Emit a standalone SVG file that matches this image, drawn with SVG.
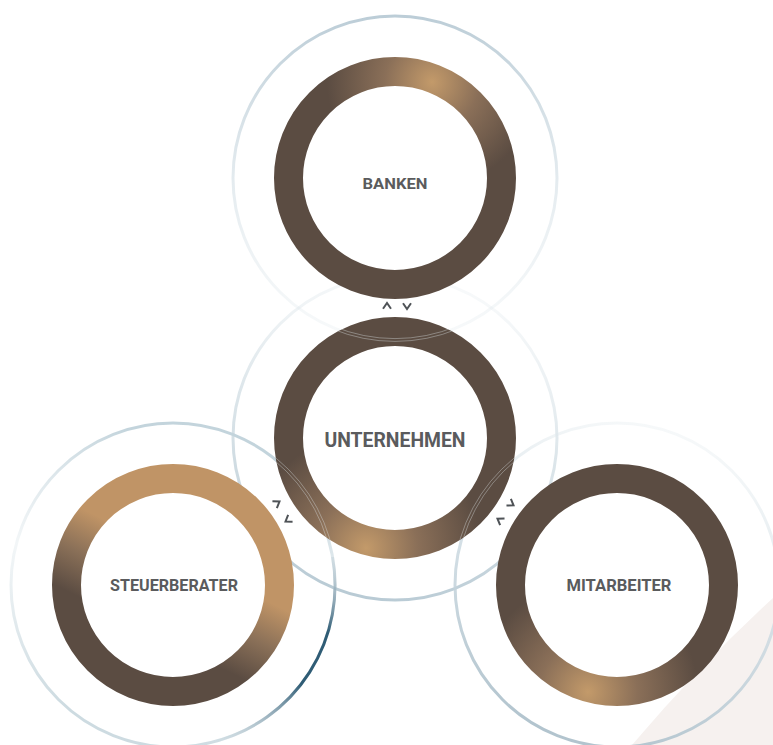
<svg xmlns="http://www.w3.org/2000/svg" width="773" height="745" viewBox="0 0 773 745">
  <style>
    .ring{fill:none;stroke-width:29}
    .halo{fill:none;stroke-width:3}
    .hair{fill:none;stroke:#dfe7eb;stroke-width:0.7;stroke-opacity:0.55}
    .lbl{font-family:Roboto,"Open Sans","Liberation Sans",sans-serif;font-weight:700;fill:#5a5b5d;text-anchor:middle}
    .chev{fill:none;stroke:#4f5357;stroke-width:2;stroke-linecap:butt;stroke-linejoin:miter}
  </style>
  <defs>
    <radialGradient id="gBank" gradientUnits="userSpaceOnUse" cx="432" cy="82" r="105">
      <stop offset="0" stop-color="#c39a6a"/>
      <stop offset="0.45" stop-color="#8a6f58"/>
      <stop offset="1" stop-color="#5b4c42"/>
    </radialGradient>
    <radialGradient id="gUnt" gradientUnits="userSpaceOnUse" cx="366" cy="548" r="115">
      <stop offset="0" stop-color="#c39a6a"/>
      <stop offset="0.45" stop-color="#8a6f58"/>
      <stop offset="1" stop-color="#5b4c42"/>
    </radialGradient>
    <radialGradient id="gMit" gradientUnits="userSpaceOnUse" cx="588" cy="692" r="110">
      <stop offset="0" stop-color="#c39a6a"/>
      <stop offset="0.45" stop-color="#8a6f58"/>
      <stop offset="1" stop-color="#5b4c42"/>
    </radialGradient>
    <linearGradient id="gSt" gradientUnits="userSpaceOnUse" x1="200" y1="530" x2="140" y2="650">
      <stop offset="0.25" stop-color="#c09466"/>
      <stop offset="0.55" stop-color="#8a7058"/>
      <stop offset="0.85" stop-color="#5b4c42"/>
    </linearGradient>
    <linearGradient id="hBank" gradientUnits="userSpaceOnUse" x1="0" y1="16" x2="0" y2="340">
      <stop offset="0" stop-color="#bccdd7"/>
      <stop offset="0.55" stop-color="#d6e1e7" stop-opacity="0.6"/>
      <stop offset="1" stop-color="#e1e9ed" stop-opacity="0.25"/>
    </linearGradient>
    <linearGradient id="hUnt" gradientUnits="userSpaceOnUse" x1="430" y1="276" x2="360" y2="600">
      <stop offset="0" stop-color="#e3eaee" stop-opacity="0.25"/>
      <stop offset="0.45" stop-color="#d2dee4" stop-opacity="0.75"/>
      <stop offset="1" stop-color="#b8cad4"/>
    </linearGradient>
    <linearGradient id="hSt" gradientUnits="userSpaceOnUse" x1="120" y1="425" x2="40" y2="700">
      <stop offset="0" stop-color="#c3d4dc"/>
      <stop offset="0.5" stop-color="#e6edf0" stop-opacity="0.5"/>
      <stop offset="1" stop-color="#cddbe1"/>
    </linearGradient>
    <linearGradient id="hStDark" gradientUnits="userSpaceOnUse" x1="329" y1="540" x2="215" y2="741">
      <stop offset="0" stop-color="#9fb5c2" stop-opacity="0"/>
      <stop offset="0.35" stop-color="#2f5c75"/>
      <stop offset="0.6" stop-color="#2f5c75"/>
      <stop offset="1" stop-color="#9fb5c2" stop-opacity="0"/>
    </linearGradient>
    <linearGradient id="hMit" gradientUnits="userSpaceOnUse" x1="700" y1="430" x2="600" y2="747">
      <stop offset="0" stop-color="#e5ecef" stop-opacity="0.3"/>
      <stop offset="0.45" stop-color="#d0dde4" stop-opacity="0.8"/>
      <stop offset="1" stop-color="#b2c4ce"/>
    </linearGradient>
    <mask id="mUnt" maskUnits="userSpaceOnUse" x="0" y="0" width="773" height="745">
      <circle cx="395" cy="438" r="106.5" fill="none" stroke="#ffffff" stroke-width="29"/>
    </mask>
    <path id="chevUp" d="M-4,2.8 L0,-3 L4,2.8"/>
    <path id="chevDown" d="M-4,-2.8 L0,3 L4,-2.8"/>
  </defs>

  <rect width="773" height="745" fill="#ffffff"/>
  <path d="M773,598 Q700,665 632,745 L773,745 Z" fill="#f6f1ef"/>

  <g id="halos">
    <circle class="halo" cx="395" cy="178" r="162" stroke="url(#hBank)"/>
    <circle class="halo" cx="395" cy="438" r="162" stroke="url(#hUnt)"/>
    <circle class="halo" cx="173" cy="585" r="162" stroke="url(#hSt)"/>
    <path class="halo" d="M332.6,556.9 A162,162 0 0 1 214.9,741.5" stroke="url(#hStDark)"/>
    <circle class="halo" cx="617" cy="585" r="162" stroke="url(#hMit)"/>
  </g>

  <g id="node-banken">
    <circle class="ring" cx="395" cy="178" r="106.5" stroke="url(#gBank)"/>
    <text class="lbl" x="395" y="189" font-size="15" textLength="65" lengthAdjust="spacingAndGlyphs">BANKEN</text>
  </g>
  <g id="node-unternehmen">
    <circle class="ring" cx="395" cy="438" r="106.5" stroke="url(#gUnt)"/>
    <text class="lbl" x="395" y="447" font-size="20" textLength="141" lengthAdjust="spacingAndGlyphs">UNTERNEHMEN</text>
  </g>
  <g id="node-steuerberater">
    <circle class="ring" cx="173" cy="585" r="106.5" stroke="url(#gSt)"/>
    <text class="lbl" x="174" y="591" font-size="17" textLength="128" lengthAdjust="spacingAndGlyphs">STEUERBERATER</text>
  </g>
  <g id="node-mitarbeiter">
    <circle class="ring" cx="617" cy="585" r="106.5" stroke="url(#gMit)"/>
    <text class="lbl" x="619" y="591" font-size="17" textLength="105" lengthAdjust="spacingAndGlyphs">MITARBEITER</text>
  </g>

  <g id="halo-crossings" mask="url(#mUnt)">
    <circle class="hair" cx="395" cy="178" r="160.6"/>
    <circle class="hair" cx="395" cy="178" r="163.4"/>
    <circle class="hair" cx="173" cy="585" r="160.6"/>
    <circle class="hair" cx="173" cy="585" r="163.4"/>
    <circle class="hair" cx="617" cy="585" r="160.6"/>
    <circle class="hair" cx="617" cy="585" r="163.4"/>
  </g>

  <g id="connectors">
    <g transform="translate(397,306)">
      <use href="#chevUp" class="chev" x="-10"/>
      <use href="#chevDown" class="chev" x="10"/>
    </g>
    <g transform="translate(282.5,511.5) rotate(56.5)">
      <use href="#chevUp" class="chev" x="-10"/>
      <use href="#chevDown" class="chev" x="10"/>
    </g>
    <g transform="translate(505.5,512) rotate(-56.5)">
      <use href="#chevUp" class="chev" x="-10"/>
      <use href="#chevDown" class="chev" x="10"/>
    </g>
  </g>
</svg>
